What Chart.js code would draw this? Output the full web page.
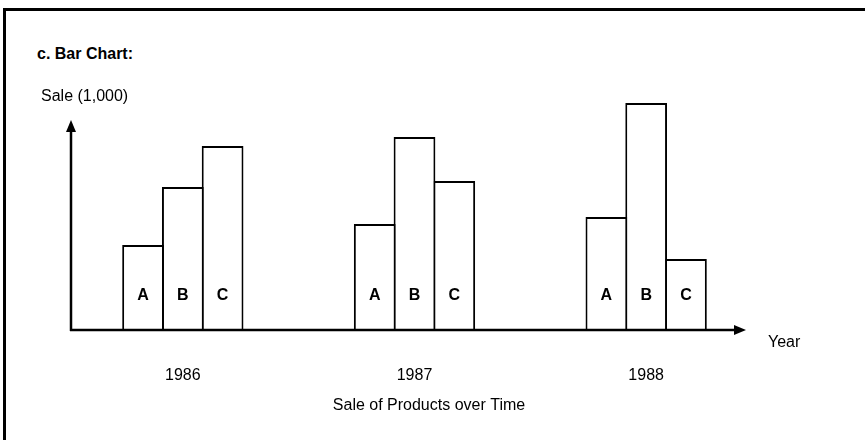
<!DOCTYPE html>
<html>
<head>
<meta charset="utf-8">
<script src="https://cdn.jsdelivr.net/npm/chart.js@4.4.1/dist/chart.umd.min.js"></script>
<style>
  html, body { margin: 0; padding: 0; background: #fff; }
  body { width: 865px; height: 440px; overflow: hidden; position: relative; font-family: "Liberation Sans", Arial, sans-serif; }
  .frame { position: absolute; left: 3px; top: 8px; width: 880px; height: 450px; border-top: 3px solid #000; border-left: 3px solid #000; }
  .heading { position: absolute; left: 37px; top: 45px; font-weight: bold; font-size: 16px; line-height: 18px; color: #000; }
  canvas { position: absolute; left: 0; top: 0; }
</style>
</head>
<body>
<div class="frame"></div>
<div class="heading">c. Bar Chart:</div>
<canvas id="barChart" width="865" height="440"></canvas>
<script>
// 1. Data (sale in thousands)
const years = ['1986', '1987', '1988'];
const products = ['A', 'B', 'C'];
const salesA = [8.5, 10.6, 11.3];
const salesB = [14.3, 19.3, 22.7];
const salesC = [18.4, 14.9, 7.1];
const yMax = 23;

const FONT = '"Liberation Sans", Arial, sans-serif';

// 2. Axes with arrows and the texts round them
const axisPlugin = {
  id: 'axisPlugin',
  afterDatasetsDraw(chart) {
    const ctx = chart.ctx;
    const area = chart.chartArea;
    const xScale = chart.scales.x;
    const base = chart.scales.y.getPixelForValue(0);
    const axisX = area.left + 4;
    const arrowX = 746;
    const arrowY = 120;

    ctx.save();
    ctx.strokeStyle = '#000';
    ctx.fillStyle = '#000';
    ctx.lineWidth = 2.5;

    // eje Y
    ctx.beginPath();
    ctx.moveTo(axisX, base + 1);
    ctx.lineTo(axisX, arrowY + 8);
    ctx.stroke();
    ctx.beginPath();
    ctx.moveTo(axisX, arrowY);
    ctx.lineTo(axisX - 5, arrowY + 12);
    ctx.lineTo(axisX + 5, arrowY + 12);
    ctx.closePath();
    ctx.fill();

    // eje X
    ctx.beginPath();
    ctx.moveTo(axisX - 1, base);
    ctx.lineTo(arrowX - 8, base);
    ctx.stroke();
    ctx.beginPath();
    ctx.moveTo(arrowX, base);
    ctx.lineTo(arrowX - 12, base - 5);
    ctx.lineTo(arrowX - 12, base + 5);
    ctx.closePath();
    ctx.fill();

    // letras dentro de las barras
    ctx.font = 'bold 16px ' + FONT;
    ctx.textAlign = 'center';
    ctx.textBaseline = 'middle';
    chart.data.datasets.forEach((ds, d) => {
      chart.getDatasetMeta(d).data.forEach(bar => {
        ctx.fillText(ds.label, bar.x, base - 34);
      });
    });

    // etiquetas de los años
    ctx.font = '16px ' + FONT;
    ctx.textBaseline = 'alphabetic';
    xScale.ticks.forEach((t, i) => {
      ctx.fillText(xScale.getLabelForValue(t.value), xScale.getPixelForTick(i), base + 50);
    });

    // títulos de ejes
    ctx.textBaseline = 'middle';
    ctx.fillText('Sale of Products over Time', 429, base + 76);
    ctx.textAlign = 'left';
    ctx.fillText('Year', 768, base + 13);
    ctx.fillText('Sale (1,000)', 41, 97);
    ctx.restore();
  }
};

// 3. Chart
function makeDataset(label, values) {
  return {
    label: label,
    data: values,
    backgroundColor: '#fff',
    borderColor: '#000',
    borderWidth: 2,
    borderSkipped: 'bottom',
    categoryPercentage: 0.515,
    barPercentage: 1.05
  };
}

new Chart(document.getElementById('barChart'), {
  type: 'bar',
  data: {
    labels: years,
    datasets: [
      makeDataset(products[0], salesA),
      makeDataset(products[1], salesB),
      makeDataset(products[2], salesC)
    ]
  },
  options: {
    responsive: false,
    animation: false,
    layout: { padding: { left: 67, right: 103, top: 100, bottom: 110 } },
    scales: {
      x: { display: false },
      y: { display: false, min: 0, max: yMax }
    },
    plugins: { legend: { display: false }, tooltip: { enabled: false } }
  },
  plugins: [axisPlugin]
});
</script>
</body>
</html>
